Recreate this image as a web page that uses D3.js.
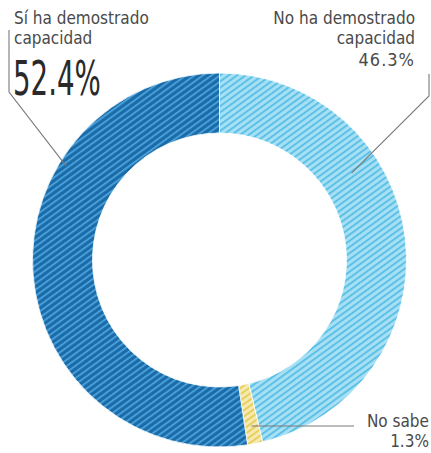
<!DOCTYPE html>
<html><head><meta charset="utf-8">
<script src="https://cdn.jsdelivr.net/npm/d3@7"></script>
<style>
html,body{margin:0;padding:0;background:#fff;}
svg{display:block;}
text{font-family:"DejaVu Sans Condensed","DejaVu Sans",sans-serif;font-stretch:condensed;}
</style></head>
<body>
<script>
// ---- data ----
const categories = ["No ha demostrado capacidad", "No sabe", "Sí ha demostrado capacidad"];
const values = [46.3, 1.3, 52.4];
const valueLabels = ["46.3%", "1.3%", "52.4%"];

// ---- styles ----
const baseColors = ["#a6e0f5", "#f6eab2", "#1b6ba8"];
const stripeColors = ["#58bde4", "#e5cd55", "#4aa3dc"];

const W = 431, H = 453;
const cx = 219.5, cy = 260, rOuter = 187, rInner = 127;

const svg = d3.select("body").append("svg").attr("width", W).attr("height", H);
const defs = svg.append("defs");
categories.forEach((c, i) => {
  const p = defs.append("pattern")
    .attr("id", "hatch" + i)
    .attr("patternUnits", "userSpaceOnUse")
    .attr("width", 5).attr("height", 5)
    .attr("patternTransform", "rotate(54)");
  p.append("rect").attr("width", 5).attr("height", 5).attr("fill", baseColors[i]);
  p.append("rect").attr("x", 0).attr("y", 0).attr("width", 1.8).attr("height", 5).attr("fill", stripeColors[i]);
});

const pie = d3.pie().sort(null).value(d => d);
const arcs = pie(values);
const arc = d3.arc().innerRadius(rInner).outerRadius(rOuter);

const g = svg.append("g").attr("transform", `translate(${cx},${cy})`);
g.selectAll("path.slice").data(arcs).enter().append("path")
  .attr("class", "slice")
  .attr("d", arc)
  .attr("fill", (d, i) => `url(#hatch${i})`)
  .attr("stroke", "#ffffff").attr("stroke-width", 0.8);

function ringPoint(d, frac, r) {
  const a = d.startAngle + (d.endAngle - d.startAngle) * frac;
  return [cx + Math.sin(a) * r, cy - Math.cos(a) * r];
}

const lineColor = "#7a7a7a";
const labelColor = "#4a4a4a";
const fs = 17;

function label(x, y, txt, anchor, size, extra) {
  const t = svg.append("text").attr("x", x).attr("y", y)
    .attr("font-size", size).attr("fill", labelColor)
    .attr("text-anchor", anchor).text(txt);
  if (extra) extra(t);
  return t;
}

// Left label: Sí ha demostrado capacidad
const pL = ringPoint(arcs[2], 0.69, 180);
svg.append("polyline")
  .attr("points", [[9, 30], [9, 92], pL].map(p => p.join(",")).join(" "))
  .attr("fill", "none").attr("stroke", lineColor).attr("stroke-width", 1.1);
label(14, 24, "Sí ha demostrado", "start", fs);
label(14, 44, "capacidad", "start", fs);
svg.append("text")
  .attr("transform", "translate(13,95) scale(0.64,1)")
  .attr("font-size", 48).attr("fill", "#2a2a2a").text(valueLabels[2]);

// Right label: No ha demostrado capacidad
const pR = ringPoint(arcs[0], 0.34, 158);
svg.append("polyline")
  .attr("points", [[429, 74], [429, 96], pR].map(p => p.join(",")).join(" "))
  .attr("fill", "none").attr("stroke", lineColor).attr("stroke-width", 1.1);
label(415, 24, "No ha demostrado", "end", fs);
label(415, 44, "capacidad", "end", fs);
label(415, 66, valueLabels[0], "end", 18, t => t.attr("letter-spacing", 1));

// No sabe
const pN = ringPoint(arcs[1], 0.5, 168);
svg.append("line")
  .attr("x1", pN[0]).attr("y1", 426).attr("x2", 354).attr("y2", 426)
  .attr("stroke", lineColor).attr("stroke-width", 1.1);
label(429, 427, "No sabe", "end", fs);
label(429, 447, valueLabels[1], "end", fs);
</script>
</body></html>
